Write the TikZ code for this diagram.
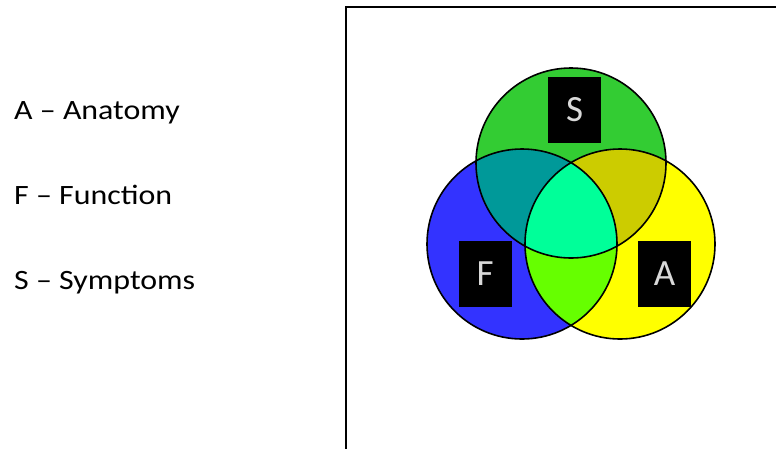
\documentclass[tikz,border=0pt]{standalone}
\usepackage{fontspec}
\setmainfont{Carlito}
\newfontfamily\legendfont[FakeStretch=1.14,Ligatures=TeX]{Carlito}
\usetikzlibrary{positioning}

\definecolor{symgreen}{HTML}{33CC33}
\definecolor{funblue}{HTML}{3333FF}
\definecolor{anayellow}{HTML}{FFFF00}
\definecolor{sfteal}{HTML}{009999}
\definecolor{saolive}{HTML}{CCCC00}
\definecolor{falime}{HTML}{66FF00}
\definecolor{allmint}{HTML}{00FF99}

\begin{document}
\begin{tikzpicture}[
  x=1pt, y=-1pt,
  legend/.style={anchor=base west, inner sep=0pt, font=\legendfont\fontsize{28}{30}\selectfont},
  ring/.style={draw=black, line width=1.6pt},
  letterbox/.style={fill=black, text=black!15, minimum width=53pt, minimum height=66pt,
    inner sep=0pt, font=\fontsize{37}{40}\selectfont}
]
\useasboundingbox (0,0) rectangle (776,448);
\clip (0,0) rectangle (776,448);

\node[legend] (anat) at (14,119) {A -- Anatomy};
\node[legend] (func) at (14,204) {F -- Function};
\node[legend] (symp) at (14,289) {S -- Symptoms};

\draw[line width=2.2pt] (346,7) rectangle (800,480);

\coordinate (cS) at (571,163);
\coordinate (cF) at (522,244);
\coordinate (cA) at (620,244);

% single sets
\fill[symgreen] (cS) circle[radius=95pt];
\fill[funblue] (cF) circle[radius=95pt];
\fill[anayellow] (cA) circle[radius=95pt];

% overlaps
\begin{scope}
  \clip (cS) circle[radius=95pt];
  \fill[sfteal] (cF) circle[radius=95pt];
  \fill[saolive] (cA) circle[radius=95pt];
\end{scope}
\begin{scope}
  \clip (cF) circle[radius=95pt];
  \fill[falime] (cA) circle[radius=95pt];
  \clip (cA) circle[radius=95pt];
  \fill[allmint] (cS) circle[radius=95pt];
\end{scope}

\draw[ring] (cS) circle[radius=95pt];
\draw[ring] (cF) circle[radius=95pt];
\draw[ring] (cA) circle[radius=95pt];

\node[letterbox] (boxS) at (574.5,109.5) {S};
\node[letterbox] (boxF) at (485,274) {F};
\node[letterbox] (boxA) at (664.5,274) {A};
\end{tikzpicture}
\end{document}
